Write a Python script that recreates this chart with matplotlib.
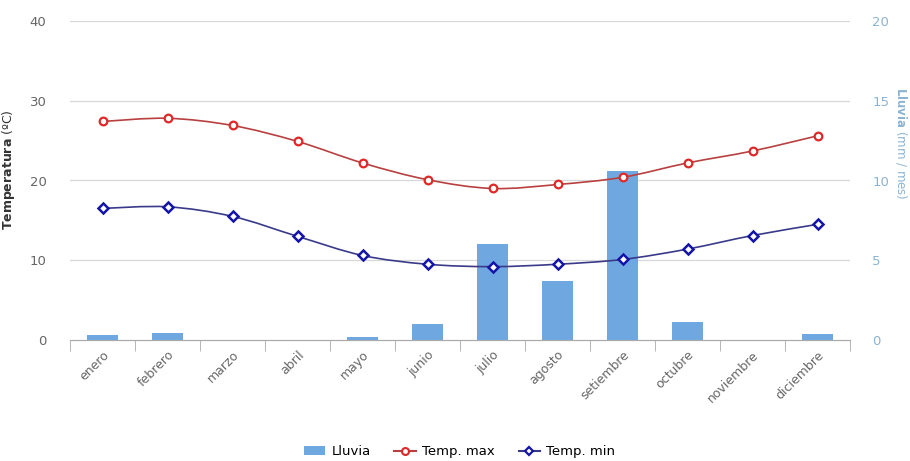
import matplotlib
matplotlib.use("Agg")
import matplotlib.pyplot as plt
from matplotlib.path import Path
from matplotlib.patches import PathPatch
from matplotlib.lines import Line2D
from matplotlib.patches import Patch
import numpy as np

months = ["enero", "febrero", "marzo", "abril", "mayo", "junio", "julio",
          "agosto", "setiembre", "octubre", "noviembre", "diciembre"]
temp_max = [27.4, 27.8, 26.9, 24.9, 22.2, 20.1, 19.0, 19.5, 20.4, 22.2, 23.7, 25.6]
temp_min = [16.5, 16.7, 15.5, 13.0, 10.6, 9.5, 9.2, 9.5, 10.1, 11.4, 13.1, 14.5]
lluvia = [0.33, 0.42, 0.0, 0.0, 0.17, 1.0, 6.0, 3.7, 10.6, 1.1, 0.0, 0.4]

temp_ticks = [0, 10, 20, 30, 40]
rain_ticks = [0, 5, 10, 15, 20]

GRAY = "#666666"
BAR = "#6fa8e0"
RED_LINE = "#b84040"
RED_MK = "#e02828"
BLUE_LINE = "#3a3a8a"
BLUE_MK = "#1414a8"
RAIN_LBL = "#8ab4d4"


def smooth_path(xs, ys):
    pts = np.column_stack([xs, ys]).astype(float)
    n = len(pts)
    verts = [pts[0]]
    codes = [Path.MOVETO]
    for i in range(n - 1):
        p0 = pts[i - 1] if i > 0 else pts[i]
        p1 = pts[i]
        p2 = pts[i + 1]
        p3 = pts[i + 2] if i + 2 < n else pts[i + 1]
        c1 = p1 + (p2 - p0) / 6.0
        c2 = p2 - (p3 - p1) / 6.0
        verts += [c1, c2, p2]
        codes += [Path.CURVE4] * 3
    return Path(verts, codes)


fig = plt.figure(figsize=(9.1, 4.61), dpi=100)
ax = fig.add_axes([70 / 910, 1 - 340 / 461, 780 / 910, 319 / 461])
ax2 = ax.twinx()

x = np.arange(len(months))

# rain bars on right axis, drawn below
ax2.bar(x, lluvia, width=0.48, color=BAR, zorder=2)
ax2.set_ylim(0, 20)
ax2.set_yticks(rain_ticks)

# temperature on left axis, drawn above
ax.set_zorder(ax2.get_zorder() + 1)
ax.patch.set_visible(False)
ax.set_ylim(0, 40)
ax.set_xlim(-0.5, len(months) - 0.5)
ax.set_yticks(temp_ticks)

ax.add_patch(PathPatch(smooth_path(x, temp_max), facecolor="none",
                       edgecolor=RED_LINE, lw=1.2, zorder=3))
ax.add_patch(PathPatch(smooth_path(x, temp_min), facecolor="none",
                       edgecolor=BLUE_LINE, lw=1.2, zorder=3))
ax.plot(x, temp_max, linestyle="none", marker="o", ms=5.5, mfc="white",
        mec=RED_MK, mew=1.6, zorder=4)
ax.plot(x, temp_min, linestyle="none", marker="D", ms=5, mfc="white",
        mec=BLUE_MK, mew=1.8, zorder=4)

# grid
for t in temp_ticks[1:]:
    ax2.axhline(t / 2, color="#d8d8d8", lw=0.9, zorder=0)

for a in (ax, ax2):
    for s in ("top", "left", "right"):
        a.spines[s].set_visible(False)
    a.spines["bottom"].set_color("#aaaaaa")

ax.tick_params(axis="y", length=0, pad=17, labelsize=9.5, labelcolor=GRAY)
ax2.tick_params(axis="y", length=0, pad=16, labelsize=9.5, labelcolor=RAIN_LBL)

ax.set_xticks(x)
ax.set_xticklabels(months, rotation=45, ha="right", rotation_mode="anchor",
                   fontsize=9, color=GRAY)
ax.tick_params(axis="x", length=0, pad=6)
ax.set_xticks(np.arange(-0.5, len(months)), minor=True)
ax.tick_params(axis="x", which="minor", length=8, color="#aaaaaa", direction="out")
ax2.tick_params(axis="x", length=0)

ax.set_ylabel(r"$\bf{Temperatura}$ (ºC)", fontsize=9, color="#333333")
ax.yaxis.set_label_coords((17 - 70) / 780, (340 - 170) / 319)
ax2.set_ylabel(r"$\bf{Lluvia}$ (mm / mes)", fontsize=8.5, color=RAIN_LBL,
               rotation=270, va="center")
ax2.yaxis.set_label_coords((901 - 70) / 780, (340 - 143) / 319)

handles = [Patch(facecolor=BAR, edgecolor="none"),
           Line2D([], [], color=RED_LINE, marker="o", mfc="white", mec=RED_MK, ms=5, mew=1.5),
           Line2D([], [], color=BLUE_LINE, marker="D", mfc="white", mec=BLUE_MK, ms=4.5, mew=1.6)]
fig.legend(handles, ["Lluvia", "Temp. max", "Temp. min"], loc="center",
           bbox_to_anchor=(0.505, 0.02), ncol=3, frameon=False, fontsize=9.5,
           handlelength=1.6, columnspacing=1.8, handletextpad=0.5)

fig.savefig("out.png", dpi=100, facecolor="white")
